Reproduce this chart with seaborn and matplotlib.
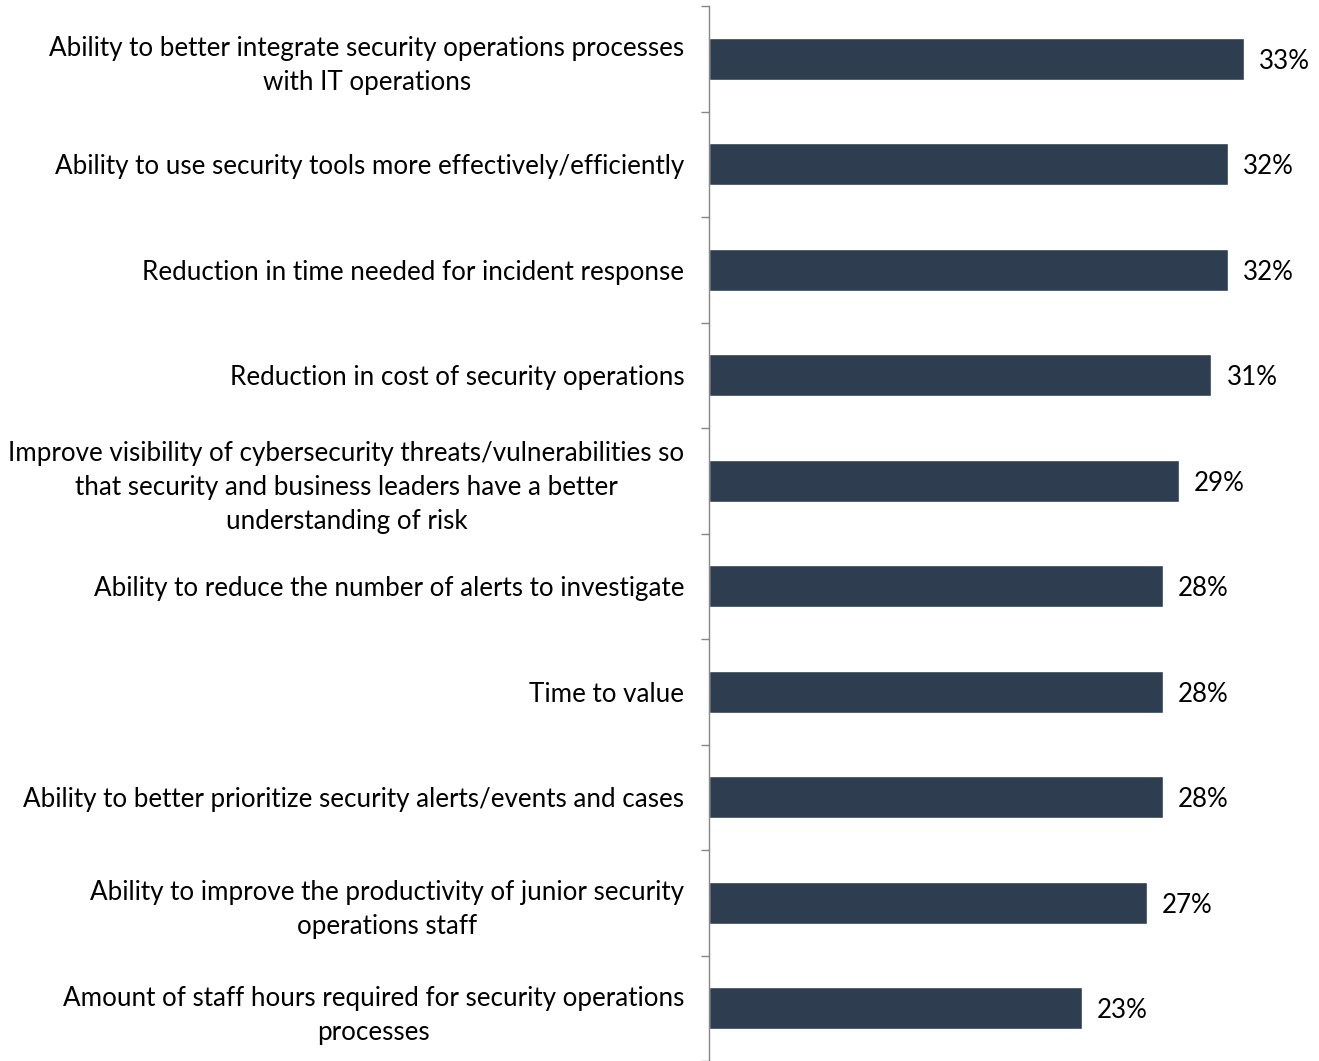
import matplotlib.pyplot as plt
import numpy as np
import pandas as pd
import seaborn as sns
from matplotlib.ticker import FixedLocator

categories = [
    "Ability to better integrate security operations processes\nwith IT operations",
    "Ability to use security tools more effectively/efficiently",
    "Reduction in time needed for incident response",
    "Reduction in cost of security operations",
    "Improve visibility of cybersecurity threats/vulnerabilities so\nthat security and business leaders have a better\nunderstanding of risk",
    "Ability to reduce the number of alerts to investigate",
    "Time to value",
    "Ability to better prioritize security alerts/events and cases",
    "Ability to improve the productivity of junior security\noperations staff",
    "Amount of staff hours required for security operations\nprocesses",
]
values = [33, 32, 32, 31, 29, 28, 28, 28, 27, 23]

BAR_COLOR = "#2E3E50"
AXIS_COLOR = "#868686"
FONT_SIZE = 18.7

sns.set_theme(style="white")
plt.rcParams["font.family"] = ["Lato", "DejaVu Sans"]

df = pd.DataFrame({"category": categories, "value": values})

fig = plt.figure(figsize=(13.19, 10.61), dpi=100)
ax = fig.add_axes([0.5379, 0.0, 0.4621, 0.9943])

sns.barplot(data=df, y="category", x="value", orient="h", color=BAR_COLOR,
            width=0.4, saturation=1, ax=ax)

ax.set_xlim(0, 37.65)
ax.set_ylim(len(categories) - 0.5, -0.5)
ax.set_xlabel("")
ax.set_ylabel("")
ax.set_xticks([])

for side in ["top", "right", "bottom"]:
    ax.spines[side].set_visible(False)
ax.spines["left"].set_color(AXIS_COLOR)
ax.spines["left"].set_linewidth(1.0)

ax.yaxis.set_minor_locator(FixedLocator(np.arange(-0.5, len(categories), 1.0)))
ax.tick_params(axis="y", which="major", length=0, pad=18, labelsize=FONT_SIZE, labelcolor="black")
ax.tick_params(axis="y", which="minor", length=6, width=1.0, color=AXIS_COLOR, direction="out", left=True)
for lbl in ax.get_yticklabels():
    lbl.set_multialignment("center")
    lbl.set_linespacing(1.45)

labels = ax.bar_label(ax.containers[0], labels=[f"{v}%" for v in values], padding=11,
                      fontsize=FONT_SIZE, color="black")
for t in labels:
    t.set_va("center_baseline")

fig.savefig("out.png", dpi=100)
